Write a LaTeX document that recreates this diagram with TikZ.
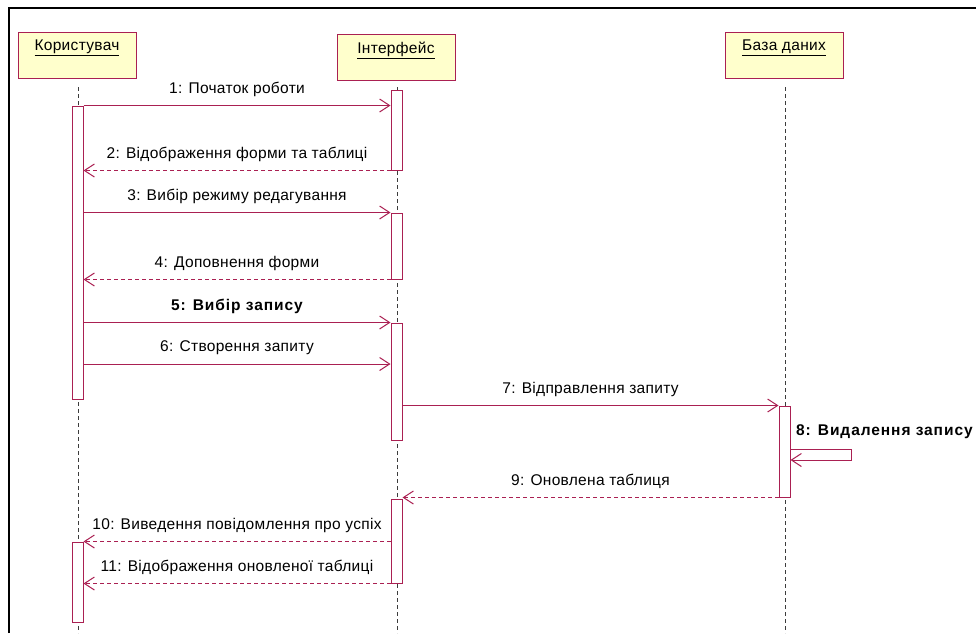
\documentclass[tikz,border=0pt]{standalone}
\usepackage{fontspec}
\setmainfont{Liberation Sans}[LetterSpace=2]
\newfontfamily\boldsp{Liberation Sans}[LetterSpace=6]
\usetikzlibrary{arrows.meta,calc}
\definecolor{umlred}{RGB}{170,32,82}
\definecolor{umlfill}{RGB}{255,255,204}
\definecolor{lifegray}{RGB}{60,60,60}
\begin{document}
\begin{tikzpicture}[x=1pt,y=-1pt,
  font=\fontsize{15.5}{18}\selectfont,
  hdr/.style={draw=umlred, fill=umlfill, line width=1pt, minimum width=118pt, minimum height=46pt, inner sep=0pt},
  hdrtext/.style={anchor=north, yshift=-8pt, inner sep=0pt},
  act/.style={draw=umlred, fill=white, line width=1pt, minimum width=11pt, inner sep=0pt},
  life/.style={draw=lifegray, line width=1pt, dash pattern=on 4pt off 3pt},
  msg/.style={draw=umlred, line width=1pt, -{Straight Barb[length=10pt,width=13pt,line width=1pt]}},
  ret/.style={msg, dash pattern=on 4pt off 3pt},
  mlab/.style={midway, yshift=16pt, inner sep=0pt, text=black},
  blab/.style={font=\fontsize{15.5}{18}\selectfont\boldsp\bfseries}
]
\useasboundingbox (0,0) rectangle (976,633);
\fill[white] (0,0) rectangle (976,633);
\draw[line width=2pt] (9,633) -- (9,8) -- (976,8);

% headers
\node[hdr, label={[hdrtext]north:\underline{Користувач}}] (user) at (77,55) {};
\node[hdr, label={[hdrtext]north:\underline{Інтерфейс}}] (ui) at (396,57) {};
\node[hdr, label={[hdrtext]north:\underline{База даних}}] (db) at (784,55) {};

% lifelines
\coordinate (uend) at (78,633);
\coordinate (iend) at (397,633);
\coordinate (dend) at (785,633);
\draw[life] (78,87) -- (uend);
\draw[life] (397,87) -- (iend);
\draw[life] (785,87) -- (dend);

% activations
\node[act, minimum height=293pt] (ua1) at (77.5,252.5) {};
\node[act, minimum height=80pt] (ua2) at (77.5,582) {};
\node[act, minimum height=80pt] (ia1) at (396.5,130) {};
\node[act, minimum height=66pt] (ia2) at (396.5,246) {};
\node[act, minimum height=117pt] (ia3) at (396.5,381.5) {};
\node[act, minimum height=84pt] (ia4) at (396.5,541) {};
\node[act, minimum height=91pt] (da1) at (784.5,451.5) {};

% messages
\draw[msg] (ua1.north east) -- (ua1.north east -| ia1.west) node[mlab] {1: Початок роботи};
\draw[ret] (ia1.south west) -- (ia1.south west -| ua1.east) node[mlab] {2: Відображення форми та таблиці};
\draw[msg] (ia2.north west -| ua1.east) -- (ia2.north west) node[mlab] {3: Вибір режиму редагування};
\draw[ret] (ia2.south west) -- (ia2.south west -| ua1.east) node[mlab] {4: Доповнення форми};
\draw[msg] (ia3.north west -| ua1.east) -- (ia3.north west) node[mlab, blab] {5: Вибір запису};
\coordinate (m6) at (0,364);
\draw[msg] (m6 -| ua1.east) -- (m6 -| ia3.west) node[mlab] {6: Створення запиту};
\draw[msg] (da1.north west -| ia3.east) -- (da1.north west) node[mlab] {7: Відправлення запиту};
\coordinate (m8a) at (0,449);
\coordinate (m8b) at (851,460);
\draw[msg] (m8a -| da1.east) -- (m8a -| m8b) -- (m8b) -- (m8b -| da1.east);
\node[anchor=west, inner sep=0pt, blab] (l8) at (796,432) {8: Видалення запису};
\draw[ret] (da1.south west) -- (da1.south west -| ia4.east) node[mlab] {9: Оновлена таблиця};
\draw[ret] (ua2.north east -| ia4.west) -- (ua2.north east) node[mlab] {10: Виведення повідомлення про успіх};
\draw[ret] (ia4.south west) -- (ia4.south west -| ua2.east) node[mlab] {11: Відображення оновленої таблиці};
\end{tikzpicture}
\end{document}
